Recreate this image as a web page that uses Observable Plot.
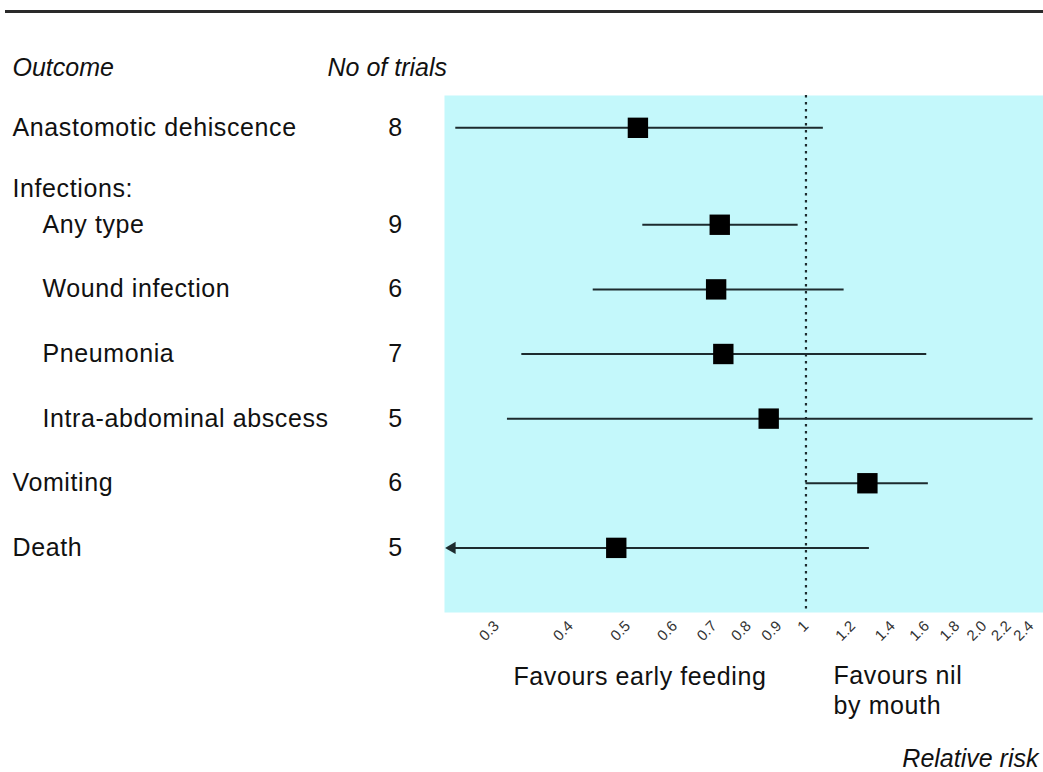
<!DOCTYPE html>
<html>
<head>
<meta charset="utf-8">
<script src="https://cdn.jsdelivr.net/npm/d3@7"></script>
<script src="https://cdn.jsdelivr.net/npm/@observablehq/plot@0.6"></script>
<style>
  html, body { margin: 0; padding: 0; background: #fff; }
  #wrap { position: relative; width: 1043px; height: 772px; }
  #topline { position: absolute; left: 5px; top: 10px; width: 1038px; height: 3px; background: #2a2a2a; }
  svg { font-family: "Liberation Sans", Arial, sans-serif; }
  svg g.big text { letter-spacing: 0.6px; }
  svg g.ital text { letter-spacing: 0px; }
</style>
</head>
<body>
<div id="wrap"><div id="topline"></div><div id="chart"></div></div>
<script>
// ---- data ----
const outcomes = ["Anastomotic dehiscence", "Any type", "Wound infection", "Pneumonia", "Intra-abdominal abscess", "Vomiting", "Death"];
const isSub    = [false, true, true, true, true, false, false];
const groupBefore = ["", "Infections:", "", "", "", "", ""];
const trials   = [8, 9, 6, 7, 5, 6, 5];
const rr       = [0.52, 0.715, 0.705, 0.725, 0.865, 1.27, 0.478];
const lower    = [0.256, 0.53, 0.437, 0.331, 0.313, 1.00, 0.24];
const upper    = [1.07, 0.97, 1.16, 1.60, 2.42, 1.61, 1.28];
const tickValues = [0.3, 0.4, 0.5, 0.6, 0.7, 0.8, 0.9, 1, 1.2, 1.4, 1.6, 1.8, 2.0, 2.2, 2.4];
const tickLabels = ["0.3", "0.4", "0.5", "0.6", "0.7", "0.8", "0.9", "1", "1.2", "1.4", "1.6", "1.8", "2.0", "2.2", "2.4"];

// ---- build rows (a group header adds half a row of space) ----
const xMin = 0.245, xMax = 2.52;
let pos = 0;
const rows = [];
const headers = [];
outcomes.forEach((name, i) => {
  if (groupBefore[i]) { headers.push({label: groupBefore[i], pos: pos}); pos += 0.5; }
  rows.push({name, sub: isSub[i], n: trials[i], rr: rr[i], lo: lower[i], hi: upper[i],
             loClip: Math.max(lower[i], xMin * 1.03), trunc: lower[i] < xMin, pos});
  pos += 1;
});

const font = 25;
const big = {fontSize: font, fill: "#111", className: "big"};
const ital = {fontSize: font, fill: "#111", fontStyle: "italic", className: "ital"};

const chart = Plot.plot({
  width: 1043,
  height: 772,
  marginLeft: 444,
  marginRight: 0,
  marginTop: 95,
  marginBottom: 160,
  style: {fontFamily: '"Liberation Sans", Arial, sans-serif', background: "transparent", overflow: "visible"},
  x: {type: "log", domain: [xMin, xMax]},
  y: {domain: [-0.5, 7.5], reverse: true, axis: null},
  marks: [
    Plot.frame({fill: "#c4f8fb", stroke: null}),
    Plot.ruleX([1], {stroke: "#1d2b2e", strokeWidth: 2.2, strokeDasharray: "2.5,4.5"}),
    // confidence intervals
    Plot.ruleY(rows.filter(d => !d.trunc), {y: "pos", x1: "lo", x2: "hi", stroke: "#1d2b2e", strokeWidth: 2}),
    Plot.ruleY(rows.filter(d => d.trunc), {y: "pos", x1: "loClip", x2: "hi", stroke: "#1d2b2e", strokeWidth: 2}),
    Plot.dot(rows.filter(d => d.trunc), {x: "loClip", y: "pos", symbol: "triangle", rotate: -90, r: 4.5, fill: "#1d2b2e", stroke: null}),
    // point estimates
    Plot.dot(rows, {x: "rr", y: "pos", symbol: "square", r: 11.5, fill: "#000", stroke: null}),
    // axis
    Plot.axisX({ticks: tickValues, tickFormat: (d) => tickLabels[tickValues.indexOf(d)], tickRotate: -45, tickSize: 0, tickPadding: 11, fontSize: 15, fill: "#333", label: null}),
    // left columns
    Plot.text(rows.filter(d => !d.sub), {y: "pos", text: "name", frameAnchor: "left", textAnchor: "start", dx: -432, ...big}),
    Plot.text(rows.filter(d => d.sub), {y: "pos", text: "name", frameAnchor: "left", textAnchor: "start", dx: -402, ...big}),
    Plot.text(headers, {y: "pos", text: "label", frameAnchor: "left", textAnchor: "start", dx: -432, dy: -3, ...big}),
    Plot.text(rows, {y: "pos", text: "n", frameAnchor: "left", textAnchor: "middle", dx: -49, ...big}),
    // column headers
    Plot.text(["Outcome"], {frameAnchor: "top-left", textAnchor: "start", lineAnchor: "middle", dx: -432, dy: -28, ...ital}),
    Plot.text(["No of trials"], {frameAnchor: "top-left", textAnchor: "start", lineAnchor: "middle", dx: -117, dy: -28, ...ital}),
    // bottom annotations
    Plot.text(["Favours early feeding"], {frameAnchor: "bottom-left", textAnchor: "start", lineAnchor: "middle", dx: 69, dy: 64, ...big}),
    Plot.text(["Favours nil\nby mouth"], {frameAnchor: "bottom-left", textAnchor: "start", lineAnchor: "top", dx: 389, dy: 50, lineHeight: 1.2, ...big}),
    Plot.text(["Relative risk"], {frameAnchor: "bottom-right", textAnchor: "end", lineAnchor: "middle", dx: -5, dy: 146, ...ital})
  ]
});
document.getElementById("chart").appendChild(chart);
</script>
</body>
</html>
